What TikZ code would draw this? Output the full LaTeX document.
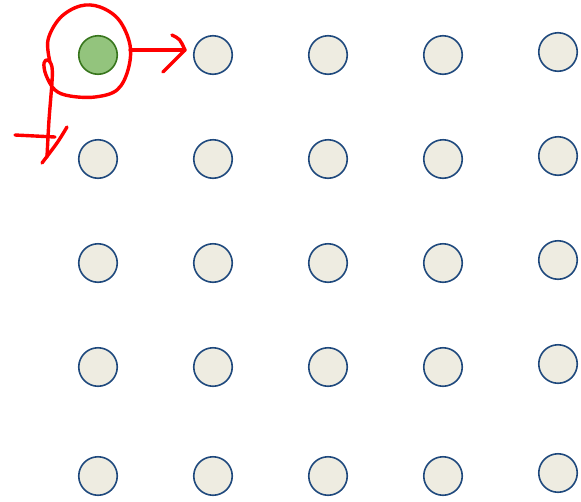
\documentclass[tikz,border=0pt]{standalone}
\usetikzlibrary{positioning}
\definecolor{dotfill}{RGB}{238,236,225}
\definecolor{dotline}{RGB}{31,73,125}
\definecolor{seedfill}{RGB}{147,196,125}
\definecolor{seedline}{RGB}{56,118,29}
\definecolor{ink}{RGB}{255,0,0}

\begin{document}
\begin{tikzpicture}[
    x=1pt, y=-1pt,
    dot/.style={draw=dotline, fill=dotfill, circle, minimum size=38.5pt, inner sep=0pt, line width=1.6pt},
    seed/.style={dot, draw=seedline, fill=seedfill},
    pen/.style={draw=ink, line width=3.4pt, line cap=round, line join=round}
  ]
  \useasboundingbox (0,0) rectangle (581,501);

  % ================= GRID OF DOTS =================
  \node[seed] (n11) at (98,55) {};
  \foreach \r/\y in {1/55,2/159,3/263,4/367,5/476}{
    \foreach \c/\x in {1/98,2/213,3/328,4/443}{
      \ifnum\r\c=11\relax\else
        \node[dot] (n\r\c) at (\x,\y) {};
      \fi
    }
    \node[dot] (n\r5) at (558,\y-3) {};
  }

  % ================= HAND-DRAWN MARKS =================
  % loop round the seed, running down into the left arrow
  \draw[pen] plot[smooth, tension=0.6] coordinates {
    (50,62) (48,40) (60,18) (80,6) (100,7) (119,20) (130,45) (128,70)
    (117,90) (95,97) (70,96) (55,90) (46,75) (44,63) (48,60) (52,67)
    (52,82) (49,120) (47,157)};
  \draw[pen] (67,127) .. controls (58,142) .. (42,163);
  \draw[pen] (15,135) -- (55,137);

  % arrow to the right neighbour
  \draw[pen] ([xshift=12pt, yshift=5pt]n11.east) -- ([xshift=-8pt, yshift=5pt]n12.west) coordinate (tip);
  \draw[pen] (tip) ++(-13,-15) .. controls +(8,4) .. (tip) -- ++(-22,22);
\end{tikzpicture}
\end{document}
